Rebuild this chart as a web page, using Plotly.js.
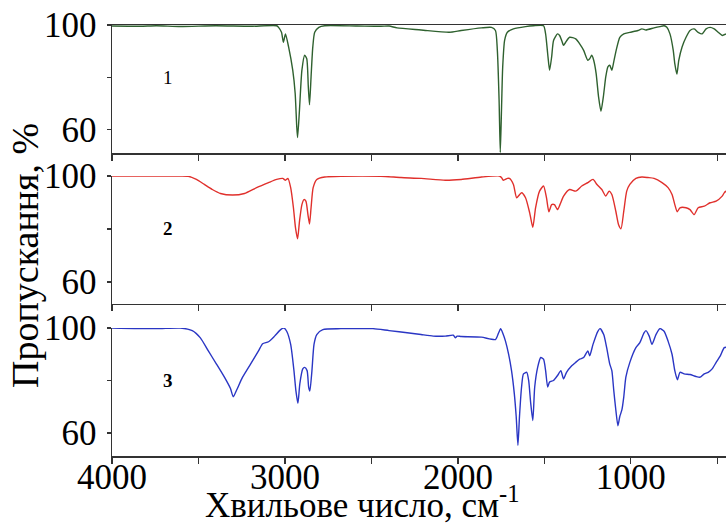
<!DOCTYPE html>
<html>
<head>
<meta charset="utf-8">
<script src="https://cdn.plot.ly/plotly-3.0.1.min.js"></script>
<style>html,body{margin:0;padding:0;background:#fff;}#chart{width:726px;height:523px;}</style>
</head>
<body>
<div id="chart"></div>
<script>
// Spectrum 1 (green)
var wn1 = [4000,3837,3744,3605,3400,3200,3048,3037,3020,3009,2997,2979,2955,2941,2932,2927,2916,2902,2886,2874,2865,2858,2849,2839,2828,2804,2770,2584,2445,2398,2352,2213,2050,1981,1864,1806,1783,1772,1762,1755,1748,1741,1730,1714,1679,1609,1563,1505,1493,1481,1470,1458,1447,1424,1412,1400,1389,1377,1354,1319,1296,1273,1249,1238,1226,1215,1201,1187,1173,1159,1145,1133,1122,1110,1099,1085,1064,1041,1006,959,936,913,866,832,808,792,774,755,746,734,723,704,681,658,634,611,588,565,542,518,495,472,450];
var t1 = [99.6,99.5,99.7,99.4,99.7,99.5,99.7,99.1,97.2,93.4,96.6,91.6,82.7,73.9,61.3,56.9,67.6,82.7,88.4,87.1,76.4,69.5,80.2,91.6,97.2,99.1,99.7,99.6,99.5,99.6,98.9,98.1,97.2,97.9,98.9,99.1,97.9,90.3,71.4,51.2,67.6,84.0,94.1,97.2,98.5,99.4,99.7,99.7,96.6,89.0,82.7,87.8,94.1,96.6,96.0,94.1,92.2,93.4,95.3,94.7,92.8,90.3,86.5,87.1,88.4,86.5,81.5,72.6,67.0,72.6,80.2,84.0,84.6,82.7,85.9,90.3,95.3,96.6,97.2,97.9,98.5,98.1,98.9,99.4,99.7,99.1,96.6,90.3,85.2,81.2,86.5,91.6,95.3,97.9,98.5,97.2,96.6,98.5,99.1,98.5,97.2,96.0,96.6];

// Spectrum 2 (red)
var wn2 = [4000,3800,3605,3559,3512,3466,3420,3373,3303,3234,3164,3095,3048,3013,2997,2983,2967,2951,2939,2927,2916,2902,2890,2879,2867,2858,2849,2837,2816,2770,2677,2445,2329,2213,2073,1981,1864,1760,1748,1737,1714,1702,1679,1660,1632,1609,1585,1567,1551,1528,1505,1488,1474,1458,1442,1424,1410,1389,1354,1319,1284,1249,1219,1196,1168,1145,1126,1110,1087,1071,1057,1041,1024,1006,971,936,901,866,820,785,762,746,732,716,681,658,634,611,576,542,507,472,453,442,430];
var t2 = [100,100,100,99.9,98.7,96.8,94.9,93.4,92.8,93.4,95.6,97.5,98.7,99.1,98.4,99.1,95.6,88.0,80.4,76.3,82.9,89.2,91.1,90.5,85.4,81.9,88.0,95.6,98.7,99.6,99.9,99.9,99.4,99.1,98.4,98.7,99.6,100,99.4,98.4,99.1,99.1,96.8,91.8,93.7,91.8,86.1,80.6,88.0,94.3,96.2,91.8,86.5,89.2,89.2,87.3,89.2,92.4,94.9,94.3,96.2,97.5,98.7,96.8,94.9,92.4,94.3,93.0,86.7,81.6,80.1,86.7,94.3,96.8,99.1,99.6,99.4,99.1,97.5,95.6,93.0,89.2,86.5,88.0,88.0,87.3,85.4,88.0,88.6,89.9,90.5,92.4,94.3,93.0,91.8];

// Spectrum 3 (blue)
var wn3 = [4000,3744,3605,3536,3489,3443,3396,3350,3315,3299,3280,3245,3199,3153,3129,3095,3060,3025,3006,2990,2967,2948,2937,2925,2914,2897,2886,2872,2863,2856,2844,2832,2816,2781,2677,2584,2491,2398,2282,2213,2143,2073,2027,2015,2004,1981,1864,1783,1765,1753,1741,1725,1707,1690,1674,1663,1653,1644,1632,1621,1602,1591,1579,1567,1556,1539,1521,1505,1493,1481,1470,1447,1424,1405,1389,1372,1342,1319,1296,1273,1249,1238,1219,1191,1178,1157,1140,1122,1110,1099,1087,1075,1064,1052,1041,1029,1006,971,948,924,913,894,878,855,832,808,785,762,746,731,716,692,658,623,599,576,553,530,507,483,460,442,430];
var t3 = [100,99.75,100,99,96.25,91.25,86.25,81.25,76.9,73.75,76.25,81.25,86.25,91.25,94,94.75,96.9,99.4,100,98.75,93.75,83.75,76.25,71.25,78.75,84.4,85,83.75,77.5,76,83.75,93.75,97.5,99.4,99.75,99.75,99.75,99,98.1,97.5,96.9,96.9,97.25,96.25,96.9,96.75,96.5,95.6,98.1,99.75,98.1,95,90,83.75,75,66.25,55.25,66.25,77.5,82.5,83.1,80,71.25,64.75,77.5,85,88.75,88.1,83.75,77.5,79.4,80,81.9,83.75,80.6,83.1,85.6,86.9,88.1,88.75,91.25,89.4,93.75,98.75,99.75,97.5,92.5,86.25,83.75,76.25,68.75,62.75,66.25,68.75,73.75,81.25,86.9,92.5,94.4,98.1,99,96.9,93.75,97.5,99.75,98.75,95,90,83.75,80.25,83.1,82.5,82.25,81.5,81.25,82.5,83.1,84.4,86.9,89.4,92.5,92.75,93.1];

var xTickVals = [4000,3500,3000,2500,2000,1500,1000,500];
var xTickText = ['4000','','3000','','2000','','1000',''];
var yTickVals = [60,80,100];
var yTickText = ['60','','100'];
var panelLabels = ['1','2','3'];
var seriesColors = ['#2f612f','#e0302c','#2a36c4'];

var axisColor = '#333333';
var serif = 'Liberation Serif, Times New Roman, serif';
var yTickFont = {family: serif, size: 35, color: '#000'};
var xTickFont = {family: serif, size: 35, color: '#000'};

function xAxis(showLabels, anchor, mirror) {
  return {
    range: [4000, 450], anchor: anchor, showgrid: false, zeroline: false,
    showline: true, linecolor: axisColor, linewidth: 1.5, mirror: mirror,
    ticks: 'outside', ticklen: 6, tickwidth: 1.2, tickcolor: axisColor,
    tickmode: 'array', tickvals: xTickVals, ticktext: xTickText,
    showticklabels: showLabels, tickfont: xTickFont, ticklabelstandoff: -17
  };
}
function yAxis(domain, lo, anchor) {
  return {
    domain: domain, range: [lo, 100], anchor: anchor, showgrid: false, zeroline: false,
    showline: true, linecolor: axisColor, linewidth: 1.5,
    ticks: 'outside', ticklen: 4, tickwidth: 1.2, tickcolor: axisColor,
    tickmode: 'array', tickvals: yTickVals, ticktext: yTickText,
    tickfont: yTickFont, ticklabelstandoff: 3
  };
}

var lineStyle = function (c) { return {color: c, width: 1.4, shape: 'spline', smoothing: 0.6}; };
var traces = [
  {x: wn1, y: t1, xaxis: 'x', yaxis: 'y', type: 'scatter', mode: 'lines', line: lineStyle(seriesColors[0])},
  {x: wn2, y: t2, xaxis: 'x2', yaxis: 'y2', type: 'scatter', mode: 'lines', line: lineStyle(seriesColors[1])},
  {x: wn3, y: t3, xaxis: 'x3', yaxis: 'y3', type: 'scatter', mode: 'lines', line: lineStyle(seriesColors[2])}
];

var pw = 726 - 112 - 0, ph = 523 - 25 - 67;
var labelFont = {family: serif, size: 19, color: '#000'};
var layout = {
  width: 726, height: 523,
  margin: {l: 112, r: 0, t: 25, b: 67},
  paper_bgcolor: '#fff', plot_bgcolor: '#fff',
  showlegend: false,
  xaxis: xAxis(false, 'y', true),
  yaxis: yAxis([0.703, 1], 51, 'x'),
  xaxis2: xAxis(false, 'y2', false),
  yaxis2: yAxis([0.3527, 0.6497], 51.7, 'x2'),
  xaxis3: xAxis(true, 'y3', false),
  yaxis3: yAxis([0, 0.297], 51.2, 'x3'),
  annotations: [
    {text: panelLabels[0], x: 3676, y: 80, xref: 'x', yref: 'y', showarrow: false, font: labelFont},
    {text: '<b>' + panelLabels[1] + '</b>', x: 3676, y: 80, xref: 'x2', yref: 'y2', showarrow: false, font: labelFont},
    {text: '<b>' + panelLabels[2] + '</b>', x: 3676, y: 80, xref: 'x3', yref: 'y3', showarrow: false, font: labelFont},
    {text: 'Хвильове число, см<sup>-1</sup>', x: (362 - 112) / pw, y: (523 - 67 - 502) / ph, xref: 'paper', yref: 'paper', xanchor: 'center', yanchor: 'middle', showarrow: false, font: {family: serif, size: 35, color: '#000'}},
    {text: 'Пропускання, %', x: (25 - 112) / pw, y: (523 - 67 - 256) / ph, xref: 'paper', yref: 'paper', xanchor: 'center', yanchor: 'middle', textangle: -90, showarrow: false, font: {family: serif, size: 38, color: '#000'}}
  ]
};

Plotly.newPlot('chart', traces, layout, {displayModeBar: false, staticPlot: true});
</script>
</body>
</html>
